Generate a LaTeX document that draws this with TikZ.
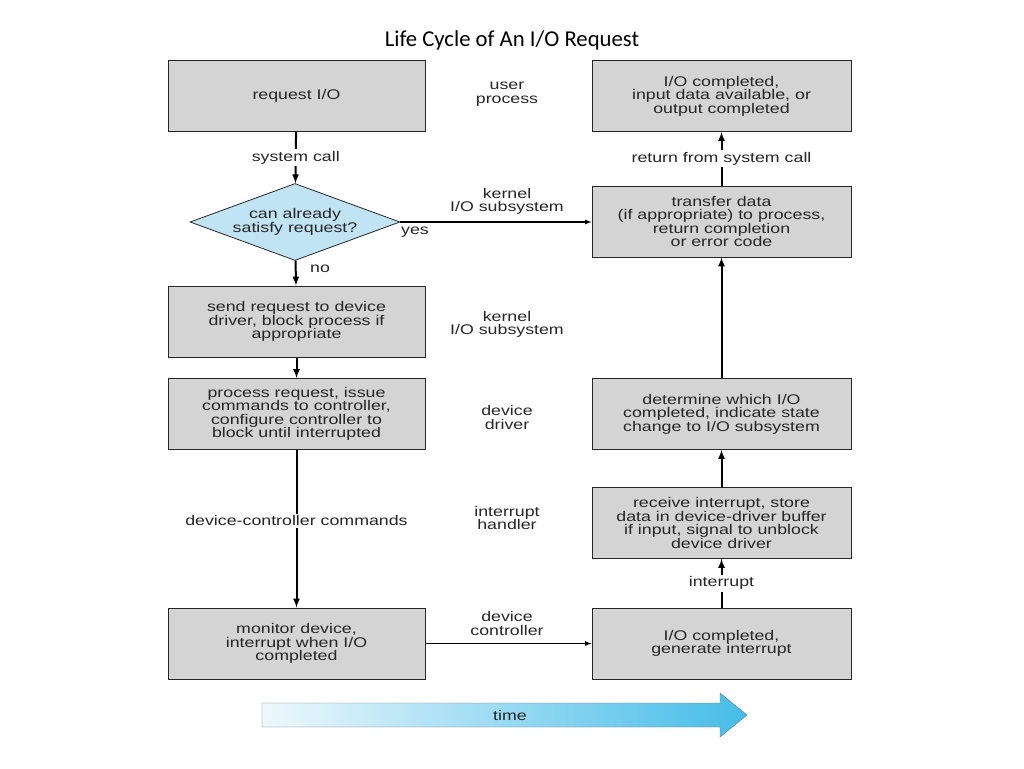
\documentclass[tikz,border=0pt]{standalone}
\usepackage{fontspec}
\setmainfont{Liberation Sans}[FakeStretch=1.27]
\newfontfamily\titlefont{Carlito}
\usetikzlibrary{shapes,arrows}
\definecolor{boxgray}{HTML}{D4D4D4}
\definecolor{askblue}{HTML}{C0E4F4}
\definecolor{timeleft}{HTML}{EEF8FD}
\definecolor{timeright}{HTML}{45BCE8}

\begin{document}
\begin{tikzpicture}[x=1pt,y=-1pt,>=latex,
  every node/.style={font=\fontsize{14}{13.5}\selectfont,align=center,text=black!85},
  box/.style={draw=black!85,line width=1pt,fill=boxgray,minimum width=257pt,minimum height=71pt,inner sep=0pt},
  ask/.style={diamond,draw=black!85,line width=0.8pt,fill=askblue,minimum width=210pt,minimum height=77pt,inner sep=0pt,aspect=2.7},
  flow/.style={->,line width=2pt},
  side/.style={->,line width=1.2pt},
  cut/.style={fill=white,inner sep=2pt}]
\useasboundingbox (0,0) rectangle (1024,768);
\node[font=\titlefont\fontsize{22.7}{24}\selectfont,text=black] (title) at (512,40) {Life Cycle of An I/O Request};
% left column
\node[box] (req) at (296.5,95.5) {request I/O};
\node[ask] (can) at (295,222) {can already\\satisfy request?};
\node[box] (send) at (296.5,321.5) {send request to device\\driver, block process if\\appropriate};
\node[box] (proc) at (296.5,414) {process request, issue\\commands to controller,\\configure controller to\\block until interrupted};
\node[box] (mon) at (296.5,643.5) {monitor device,\\interrupt when I/O\\completed};
% right column
\node[box,minimum width=259pt] (done) at (721.5,96) {I/O completed,\\input data available, or\\output completed};
\node[box,minimum width=259pt] (xfer) at (721.5,221.5) {transfer data\\(if appropriate) to process,\\return completion\\or error code};
\node[box,minimum width=259pt] (det) at (721.5,414) {determine which I/O\\completed, indicate state\\change to I/O subsystem};
\node[box,minimum width=259pt] (recv) at (721.5,523) {receive interrupt, store\\data in device-driver buffer\\if input, signal to unblock\\device driver};
\node[box,minimum width=259pt] (gen) at (721.5,643.5) {I/O completed,\\generate interrupt};
% layers
\node (user) at (507,94) {user\\process};
\node (kio1) at (507,201.5) {kernel\\I/O subsystem};
\node (kio2) at (507,324.5) {kernel\\I/O subsystem};
\node (drv) at (507,417.5) {device\\driver};
\node (hnd) at (507,518) {interrupt\\handler};
\node (ctl) at (507,623.5) {device\\controller};
% connectors
\draw[flow] (req) -- node[cut] (sys) {system call} (can);
\draw[flow] (can) -- (send);
\node (no) at (320,269) {no};
\draw[side] (can.east) -- (can.east -| xfer.west);
\node (yes) at (415,232) {yes};
\draw[flow] (send) -- (proc);
\draw[flow] (proc) -- node[cut,pos=0.45] (cmd) {device-controller commands} (mon);
\draw[side] (mon) -- (gen);
\draw[flow] (gen) -- node[cut] (irq) {interrupt} (recv);
\draw[flow] (recv) -- (det);
\draw[flow] (det) -- (xfer);
\draw[flow] (xfer) -- node[cut] (ret) {return from system call} (done);
% time arrow
\draw[draw=black!55,left color=timeleft,right color=timeright] (262,703) -- (720,703) -- (720,693) -- (747,715) -- (720,737) -- (720,727) -- (262,727) -- cycle;
\node (time) at (510,715) {time};
\end{tikzpicture}
\end{document}
